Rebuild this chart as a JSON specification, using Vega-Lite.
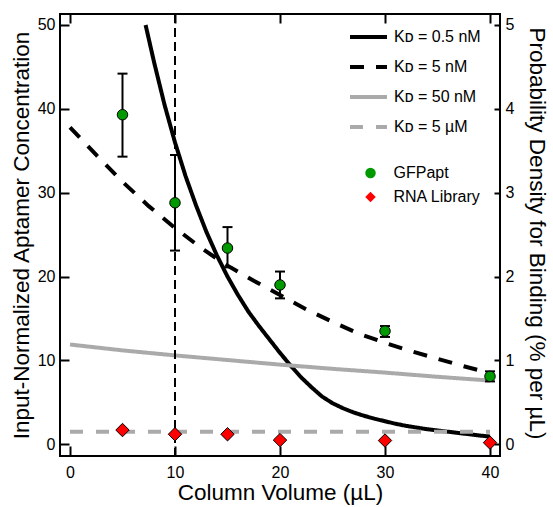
{
  "$schema": "https://vega.github.io/schema/vega-lite/v6.json",
  "width": 440,
  "height": 442,
  "autosize": {"type": "none"},
  "padding": {"left": 60, "top": 14, "right": 53, "bottom": 51},
  "config": {
    "font": "Liberation Sans",
    "view": {"stroke": "black", "strokeWidth": 2},
    "axis": {
      "grid": false,
      "domain": false,
      "tickColor": "black",
      "tickWidth": 2,
      "labelColor": "black",
      "titleColor": "black",
      "labelFont": "Liberation Sans",
      "titleFont": "Liberation Sans",
      "labelFontSize": 16,
      "titleFontSize": 22.5,
      "titleFontWeight": "normal"
    },
    "legend": {
      "labelFont": "Liberation Sans",
      "labelFontSize": 16,
      "labelColor": "black",
      "padding": 0
    }
  },
  "datasets": {
    "curves": [
      {"model": "Kᴅ = 0.5 nM", "volume": 7.2, "density": 5.0},
      {"model": "Kᴅ = 0.5 nM", "volume": 8, "density": 4.56},
      {"model": "Kᴅ = 0.5 nM", "volume": 9, "density": 4.05},
      {"model": "Kᴅ = 0.5 nM", "volume": 10, "density": 3.6},
      {"model": "Kᴅ = 0.5 nM", "volume": 11, "density": 3.2},
      {"model": "Kᴅ = 0.5 nM", "volume": 12, "density": 2.85},
      {"model": "Kᴅ = 0.5 nM", "volume": 13, "density": 2.53},
      {"model": "Kᴅ = 0.5 nM", "volume": 14, "density": 2.25},
      {"model": "Kᴅ = 0.5 nM", "volume": 15, "density": 2.0},
      {"model": "Kᴅ = 0.5 nM", "volume": 16, "density": 1.78},
      {"model": "Kᴅ = 0.5 nM", "volume": 17, "density": 1.58},
      {"model": "Kᴅ = 0.5 nM", "volume": 18, "density": 1.41},
      {"model": "Kᴅ = 0.5 nM", "volume": 19, "density": 1.25},
      {"model": "Kᴅ = 0.5 nM", "volume": 20, "density": 1.09},
      {"model": "Kᴅ = 0.5 nM", "volume": 21, "density": 0.94},
      {"model": "Kᴅ = 0.5 nM", "volume": 22, "density": 0.8},
      {"model": "Kᴅ = 0.5 nM", "volume": 23, "density": 0.68},
      {"model": "Kᴅ = 0.5 nM", "volume": 24, "density": 0.57},
      {"model": "Kᴅ = 0.5 nM", "volume": 25, "density": 0.49},
      {"model": "Kᴅ = 0.5 nM", "volume": 26, "density": 0.43},
      {"model": "Kᴅ = 0.5 nM", "volume": 27, "density": 0.38},
      {"model": "Kᴅ = 0.5 nM", "volume": 28, "density": 0.34},
      {"model": "Kᴅ = 0.5 nM", "volume": 29, "density": 0.305},
      {"model": "Kᴅ = 0.5 nM", "volume": 30, "density": 0.275},
      {"model": "Kᴅ = 0.5 nM", "volume": 31, "density": 0.245},
      {"model": "Kᴅ = 0.5 nM", "volume": 32, "density": 0.22},
      {"model": "Kᴅ = 0.5 nM", "volume": 33, "density": 0.2},
      {"model": "Kᴅ = 0.5 nM", "volume": 34, "density": 0.18},
      {"model": "Kᴅ = 0.5 nM", "volume": 35, "density": 0.165},
      {"model": "Kᴅ = 0.5 nM", "volume": 36, "density": 0.15},
      {"model": "Kᴅ = 0.5 nM", "volume": 37, "density": 0.135},
      {"model": "Kᴅ = 0.5 nM", "volume": 38, "density": 0.12},
      {"model": "Kᴅ = 0.5 nM", "volume": 39, "density": 0.105},
      {"model": "Kᴅ = 0.5 nM", "volume": 40, "density": 0.092},
      {"model": "Kᴅ = 5 nM", "volume": 0, "density": 3.78},
      {"model": "Kᴅ = 5 nM", "volume": 2.5, "density": 3.45},
      {"model": "Kᴅ = 5 nM", "volume": 5, "density": 3.13},
      {"model": "Kᴅ = 5 nM", "volume": 7.5, "density": 2.84},
      {"model": "Kᴅ = 5 nM", "volume": 10, "density": 2.58},
      {"model": "Kᴅ = 5 nM", "volume": 12.5, "density": 2.34},
      {"model": "Kᴅ = 5 nM", "volume": 15, "density": 2.13},
      {"model": "Kᴅ = 5 nM", "volume": 17.5, "density": 1.95},
      {"model": "Kᴅ = 5 nM", "volume": 20, "density": 1.78},
      {"model": "Kᴅ = 5 nM", "volume": 22.5, "density": 1.61},
      {"model": "Kᴅ = 5 nM", "volume": 25, "density": 1.46},
      {"model": "Kᴅ = 5 nM", "volume": 27.5, "density": 1.32},
      {"model": "Kᴅ = 5 nM", "volume": 30, "density": 1.21},
      {"model": "Kᴅ = 5 nM", "volume": 32.5, "density": 1.11},
      {"model": "Kᴅ = 5 nM", "volume": 35, "density": 1.02},
      {"model": "Kᴅ = 5 nM", "volume": 37.5, "density": 0.93},
      {"model": "Kᴅ = 5 nM", "volume": 40, "density": 0.85},
      {"model": "Kᴅ = 50 nM", "volume": 0, "density": 1.19},
      {"model": "Kᴅ = 50 nM", "volume": 5, "density": 1.12},
      {"model": "Kᴅ = 50 nM", "volume": 10, "density": 1.06},
      {"model": "Kᴅ = 50 nM", "volume": 15, "density": 1.005},
      {"model": "Kᴅ = 50 nM", "volume": 20, "density": 0.95},
      {"model": "Kᴅ = 50 nM", "volume": 25, "density": 0.9},
      {"model": "Kᴅ = 50 nM", "volume": 30, "density": 0.855},
      {"model": "Kᴅ = 50 nM", "volume": 35, "density": 0.805},
      {"model": "Kᴅ = 50 nM", "volume": 40, "density": 0.76},
      {"model": "Kᴅ = 5 µM", "volume": 0, "density": 0.15},
      {"model": "Kᴅ = 5 µM", "volume": 10, "density": 0.15},
      {"model": "Kᴅ = 5 µM", "volume": 20, "density": 0.15},
      {"model": "Kᴅ = 5 µM", "volume": 30, "density": 0.15},
      {"model": "Kᴅ = 5 µM", "volume": 40, "density": 0.15}
    ],
    "points": [
      {"sample": "GFPapt", "volume": 5, "value": 39.3, "lo": 34.3, "hi": 44.2},
      {"sample": "GFPapt", "volume": 10, "value": 28.8, "lo": 23.1, "hi": 34.5},
      {"sample": "GFPapt", "volume": 15, "value": 23.4, "lo": 21.1, "hi": 25.9},
      {"sample": "GFPapt", "volume": 20, "value": 19.0, "lo": 17.4, "hi": 20.6},
      {"sample": "GFPapt", "volume": 30, "value": 13.5, "lo": 12.8, "hi": 14.1},
      {"sample": "GFPapt", "volume": 40, "value": 8.1, "lo": 7.5, "hi": 8.7},
      {"sample": "RNA Library", "volume": 5, "value": 1.7},
      {"sample": "RNA Library", "volume": 10, "value": 1.2},
      {"sample": "RNA Library", "volume": 15, "value": 1.2},
      {"sample": "RNA Library", "volume": 20, "value": 0.5},
      {"sample": "RNA Library", "volume": 30, "value": 0.45},
      {"sample": "RNA Library", "volume": 40, "value": 0.2}
    ]
  },
  "layer": [
    {
      "data": {"name": "curves"},
      "mark": {"type": "line", "strokeWidth": 4, "clip": true},
      "encoding": {
        "x": {
          "field": "volume", "type": "quantitative",
          "scale": {"domain": [-0.952, 40.952], "nice": false, "zero": false},
          "axis": {"orient": "top", "labels": false, "title": null, "values": [0, 10, 20, 30, 40], "tickSize": -9}
        },
        "y": {
          "field": "density", "type": "quantitative",
          "scale": {"domain": [-0.1395, 5.131], "nice": false, "zero": false},
          "axis": {
            "orient": "right", "title": "Probability Density for Binding (% per µL)",
            "values": [0, 1, 2, 3, 4, 5], "tickSize": -6, "labelPadding": 11,
            "titleAngle": 90, "titleX": 29, "titleY": 219, "titleBaseline": "alphabetic", "titleAlign": "center"
          }
        },
        "color": {
          "field": "model", "type": "nominal",
          "scale": {"domain": ["Kᴅ = 0.5 nM", "Kᴅ = 5 nM", "Kᴅ = 50 nM", "Kᴅ = 5 µM"], "range": ["#000000", "#000000", "#aaaaaa", "#aaaaaa"]},
          "legend": {"title": null, "orient": "none", "legendX": 288, "legendY": 15, "symbolType": "stroke", "symbolSize": 1369, "symbolStrokeWidth": 4, "clipHeight": 16, "rowPadding": 14, "labelOffset": 5}
        },
        "strokeDash": {
          "field": "model", "type": "nominal",
          "scale": {"domain": ["Kᴅ = 0.5 nM", "Kᴅ = 5 nM", "Kᴅ = 50 nM", "Kᴅ = 5 µM"], "range": [[1, 0], [14, 12], [1, 0], [13, 13]]},
          "legend": {"title": null, "orient": "none", "legendX": 288, "legendY": 15, "symbolType": "stroke", "symbolSize": 1369, "symbolStrokeWidth": 4, "clipHeight": 16, "rowPadding": 14, "labelOffset": 5}
        }
      }
    },
    {
      "data": {"name": "points"},
      "layer": [
        {
          "data": {"values": [{"volume": 10}]},
          "mark": {"type": "rule", "color": "black", "strokeWidth": 2, "strokeDash": [9, 5]},
          "encoding": {
            "x": {"field": "volume", "type": "quantitative", "title": "Column Volume (µL)", "scale": {"domain": [-0.952, 40.952], "nice": false, "zero": false}}
          }
        },
        {
          "transform": [{"filter": "datum.lo != null"}],
          "mark": {"type": "errorbar", "thickness": 2, "color": "black", "opacity": 1, "ticks": {"size": 10, "thickness": 2, "color": "black", "opacity": 1}, "rule": {"strokeWidth": 2, "color": "black", "opacity": 1}},
          "encoding": {
            "x": {"field": "volume", "type": "quantitative", "title": "Column Volume (µL)", "scale": {"domain": [-0.952, 40.952], "nice": false, "zero": false}},
            "y": {"field": "lo", "type": "quantitative", "title": "Input-Normalized Aptamer Concentration", "scale": {"domain": [-1.395, 51.31], "nice": false, "zero": false}},
            "y2": {"field": "hi"}
          }
        },
        {
          "transform": [{"filter": "datum.sample == 'GFPapt'"}],
          "mark": {"type": "point", "filled": true, "stroke": "black", "strokeWidth": 1, "opacity": 1, "size": 110},
          "encoding": {
            "x": {"field": "volume", "type": "quantitative", "title": "Column Volume (µL)", "scale": {"domain": [-0.952, 40.952], "nice": false, "zero": false}},
            "y": {"field": "value", "type": "quantitative", "title": "Input-Normalized Aptamer Concentration", "scale": {"domain": [-1.395, 51.31], "nice": false, "zero": false}},
            "fill": {
              "field": "sample", "type": "nominal",
              "scale": {"domain": ["GFPapt", "RNA Library"], "range": ["#009a00", "#ff0000"]},
              "legend": {"title": null, "orient": "none", "legendX": 288, "legendY": 151, "symbolSize": 110, "symbolStrokeColor": "black", "symbolStrokeWidth": 1, "symbolOffset": 14.5, "clipHeight": 16, "rowPadding": 8, "labelOffset": 15, "encode": {"symbols": {"update": {"stroke": {"value": "black"}, "strokeWidth": {"value": 1}, "opacity": {"value": 1}}}}}
            },
            "shape": {
              "field": "sample", "type": "nominal",
              "scale": {"domain": ["GFPapt", "RNA Library"], "range": ["circle", "diamond"]},
              "legend": {"title": null, "orient": "none", "legendX": 288, "legendY": 151, "symbolSize": 110, "symbolStrokeColor": "black", "symbolStrokeWidth": 1, "symbolOffset": 14.5, "clipHeight": 16, "rowPadding": 8, "labelOffset": 15, "encode": {"symbols": {"update": {"stroke": {"value": "black"}, "strokeWidth": {"value": 1}, "opacity": {"value": 1}}}}}
            }
          }
        },
        {
          "transform": [{"filter": "datum.sample == 'RNA Library'"}],
          "mark": {"type": "point", "filled": true, "stroke": "black", "strokeWidth": 1, "opacity": 1, "size": 180},
          "encoding": {
            "x": {
              "field": "volume", "type": "quantitative", "title": "Column Volume (µL)",
              "scale": {"domain": [-0.952, 40.952], "nice": false, "zero": false},
              "axis": {"orient": "bottom", "title": "Column Volume (µL)", "values": [0, 10, 20, 30, 40], "tickSize": -10, "labelPadding": 18, "titleX": 220, "titleY": 43, "titleBaseline": "alphabetic", "titleAlign": "center"}
            },
            "y": {
              "field": "value", "type": "quantitative", "title": "Input-Normalized Aptamer Concentration",
              "scale": {"domain": [-1.395, 51.31], "nice": false, "zero": false},
              "axis": {"orient": "left", "title": "Input-Normalized Aptamer Concentration", "values": [0, 10, 20, 30, 40, 50], "tickSize": -9, "labelPadding": 14, "titleAngle": -90, "titleX": -31.7, "titleY": 221, "titleBaseline": "alphabetic", "titleAlign": "center"}
            },
            "fill": {
              "field": "sample", "type": "nominal",
              "scale": {"domain": ["GFPapt", "RNA Library"], "range": ["#009a00", "#ff0000"]},
              "legend": {"title": null, "orient": "none", "legendX": 288, "legendY": 151, "symbolSize": 110, "symbolStrokeColor": "black", "symbolStrokeWidth": 1, "symbolOffset": 14.5, "clipHeight": 16, "rowPadding": 8, "labelOffset": 15, "encode": {"symbols": {"update": {"stroke": {"value": "black"}, "strokeWidth": {"value": 1}, "opacity": {"value": 1}}}}}
            },
            "shape": {
              "field": "sample", "type": "nominal",
              "scale": {"domain": ["GFPapt", "RNA Library"], "range": ["circle", "diamond"]},
              "legend": {"title": null, "orient": "none", "legendX": 288, "legendY": 151, "symbolSize": 110, "symbolStrokeColor": "black", "symbolStrokeWidth": 1, "symbolOffset": 14.5, "clipHeight": 16, "rowPadding": 8, "labelOffset": 15, "encode": {"symbols": {"update": {"stroke": {"value": "black"}, "strokeWidth": {"value": 1}, "opacity": {"value": 1}}}}}
            }
          }
        }
      ]
    }
  ],
  "resolve": {"scale": {"x": "independent", "y": "independent"}}
}
